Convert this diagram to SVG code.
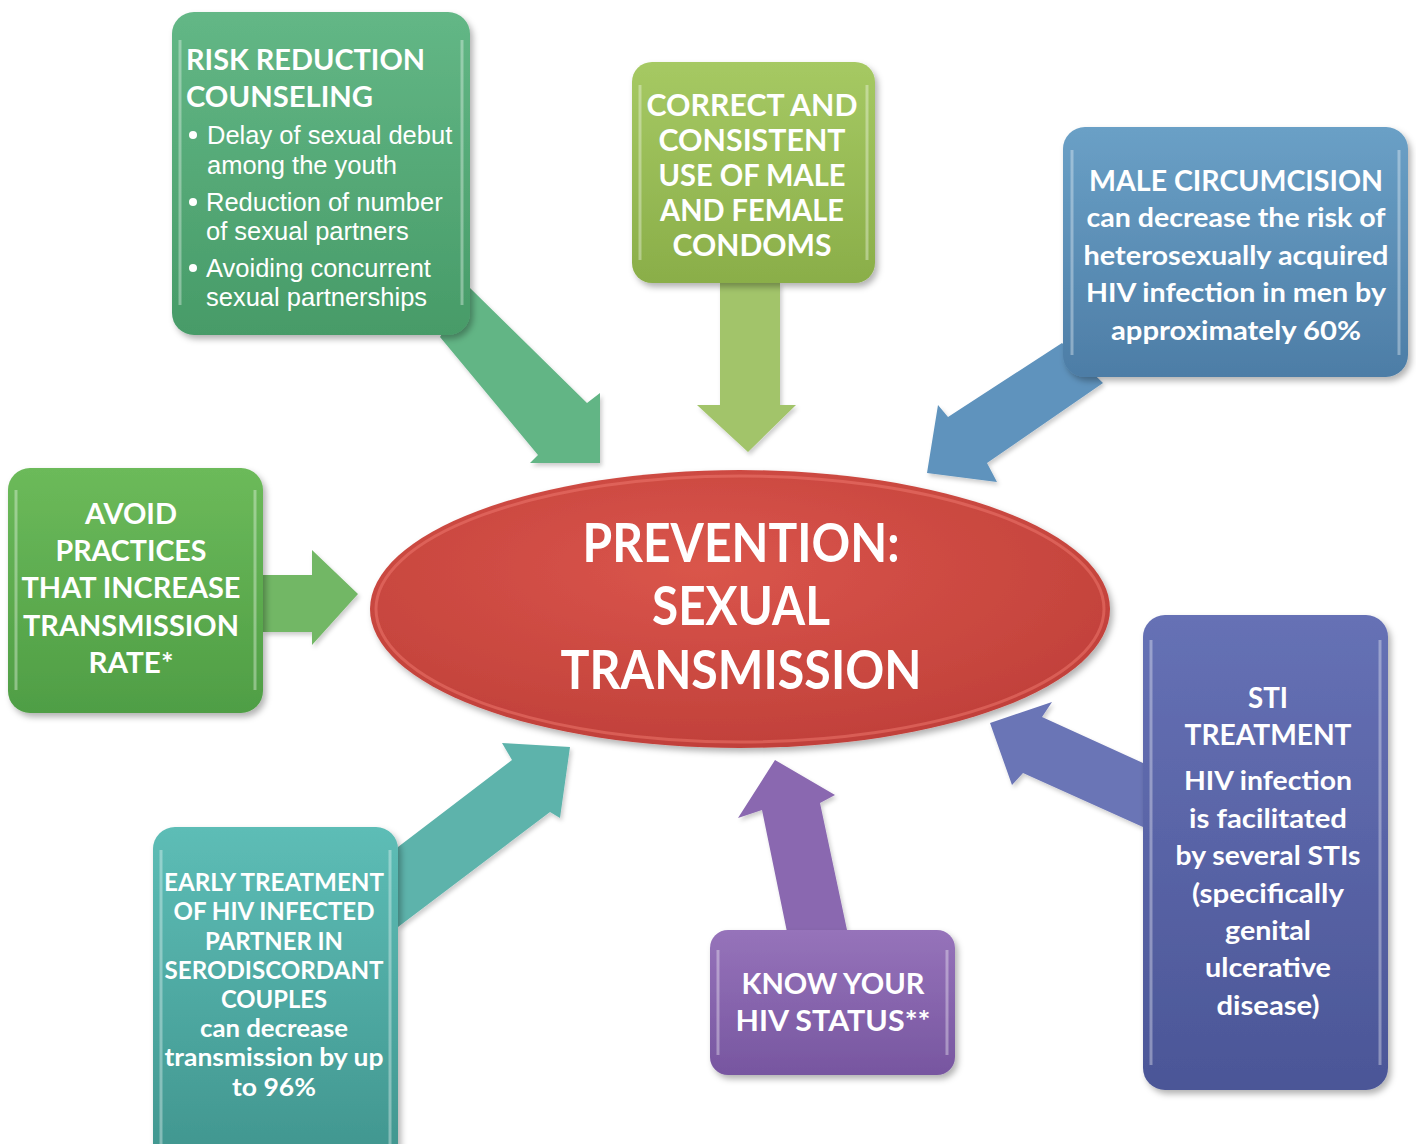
<svg xmlns="http://www.w3.org/2000/svg" width="1416" height="1144" viewBox="0 0 1416 1144">
<defs>
<filter id="sh" x="-10%" y="-10%" width="125%" height="125%">
<feDropShadow dx="3" dy="4" stdDeviation="3" flood-color="#000" flood-opacity="0.3"/>
</filter>
<filter id="ash" x="-10%" y="-10%" width="125%" height="125%">
<feDropShadow dx="2" dy="3" stdDeviation="2" flood-color="#000" flood-opacity="0.2"/>
</filter>
<linearGradient id="g1" x1="0" y1="0" x2="0" y2="1"><stop offset="0" stop-color="#63b786"/><stop offset="1" stop-color="#479b68"/></linearGradient>
<linearGradient id="g2" x1="0" y1="0" x2="0" y2="1"><stop offset="0" stop-color="#a6c963"/><stop offset="1" stop-color="#8aae49"/></linearGradient>
<linearGradient id="g3" x1="0" y1="0" x2="0" y2="1"><stop offset="0" stop-color="#6aa0c6"/><stop offset="1" stop-color="#4d7da6"/></linearGradient>
<linearGradient id="g4" x1="0" y1="0" x2="0" y2="1"><stop offset="0" stop-color="#6cba5a"/><stop offset="1" stop-color="#4f9e45"/></linearGradient>
<linearGradient id="g6" x1="0" y1="0" x2="0" y2="1"><stop offset="0" stop-color="#5dbdb6"/><stop offset="1" stop-color="#40958e"/></linearGradient>
<linearGradient id="g7" x1="0" y1="0" x2="0" y2="1"><stop offset="0" stop-color="#9673ba"/><stop offset="1" stop-color="#7756a0"/></linearGradient>
<linearGradient id="g8" x1="0" y1="0" x2="0" y2="1"><stop offset="0" stop-color="#6671b5"/><stop offset="1" stop-color="#4b5697"/></linearGradient>
<radialGradient id="ge" cx="0.45" cy="0.35" r="0.7"><stop offset="0" stop-color="#da554b"/><stop offset="1" stop-color="#bf3f39"/></radialGradient>
</defs>
<style>
.t{font-family:Lato,"Open Sans","Liberation Sans",sans-serif;font-weight:bold;fill:#fff;text-anchor:middle}
.tl{font-family:Lato,"Open Sans","Liberation Sans",sans-serif;font-weight:bold;fill:#fff}
.b{font-family:"Liberation Sans",Arial,sans-serif;fill:#fff;font-size:25.5px}
.box{filter:url(#sh)}
.hl{stroke:#fff;stroke-opacity:0.35;stroke-width:3;fill:none}
.arr{filter:url(#ash)}
</style>

<g id="connectors">
<polygon class="arr" fill="#62b585" points="470,288 587,403 600,393 600,463 530,463 538,455 440,337"/>
<polygon class="arr" fill="#a2c46a" points="720,283 780,283 780,405 796,405 748,452 697,405 720,405"/>
<polygon class="arr" fill="#5f93bd" points="1062,343 948,417 938,405 927,473 997,482 987,463 1103,383"/>
<polygon class="arr" fill="#72b765" points="263,575 312,575 312,550 358,594 312,645 312,632 263,632"/>
<polygon class="arr" fill="#5db3ab" points="398,847 512,760 502,743 570,747 560,818 550,812 398,927"/>
<polygon class="arr" fill="#8a68b0" points="787,932 762,810 738,818 775,760 835,795 820,803 847,930"/>
<polygon class="arr" fill="#6a74b6" points="1143,763 1042,717 1052,702 990,723 1012,785 1023,773 1143,827"/>
</g>

<g id="center">
<ellipse class="box" cx="740" cy="609" rx="370" ry="139" fill="url(#ge)"/>
<ellipse cx="740" cy="609" rx="364" ry="133" fill="none" stroke="#f07a70" stroke-opacity="0.5" stroke-width="3"/>
<text class="t" font-size="54" x="741" y="562" textLength="317" lengthAdjust="spacingAndGlyphs">PREVENTION:</text>
<text class="t" font-size="54" x="741" y="625" textLength="178" lengthAdjust="spacingAndGlyphs">SEXUAL</text>
<text class="t" font-size="54" x="741" y="689" textLength="361" lengthAdjust="spacingAndGlyphs">TRANSMISSION</text>
</g>

<g id="risk-reduction">
<rect class="box" x="172" y="12" width="298" height="323" rx="22" fill="url(#g1)"/>
<line class="hl" x1="180" y1="40" x2="180" y2="305"/>
<line class="hl" x1="462" y1="40" x2="462" y2="305"/>
<text class="tl" font-size="29" x="186" y="70" textLength="239" lengthAdjust="spacingAndGlyphs">RISK REDUCTION</text>
<text class="tl" font-size="29" x="186" y="107" textLength="187" lengthAdjust="spacingAndGlyphs">COUNSELING</text>
<circle cx="193" cy="135" r="4" fill="#fff"/>
<text class="b" x="207" y="144">Delay of sexual debut</text>
<text class="b" x="207" y="174">among the youth</text>
<circle cx="193" cy="202" r="4" fill="#fff"/>
<text class="b" x="206" y="211">Reduction of number</text>
<text class="b" x="206" y="240">of sexual partners</text>
<circle cx="193" cy="268" r="4" fill="#fff"/>
<text class="b" x="206" y="277">Avoiding concurrent</text>
<text class="b" x="206" y="306">sexual partnerships</text>
</g>

<g id="condoms">
<rect class="box" x="632" y="62" width="243" height="221" rx="20" fill="url(#g2)"/>
<line class="hl" x1="640" y1="85" x2="640" y2="260"/>
<line class="hl" x1="867" y1="85" x2="867" y2="260"/>
<text class="t" font-size="30" x="752" y="116" textLength="211" lengthAdjust="spacingAndGlyphs">CORRECT AND</text>
<text class="t" font-size="30" x="752" y="151" textLength="187" lengthAdjust="spacingAndGlyphs">CONSISTENT</text>
<text class="t" font-size="30" x="752" y="186" textLength="187" lengthAdjust="spacingAndGlyphs">USE OF MALE</text>
<text class="t" font-size="30" x="752" y="221" textLength="184" lengthAdjust="spacingAndGlyphs">AND FEMALE</text>
<text class="t" font-size="30" x="752" y="256" textLength="159" lengthAdjust="spacingAndGlyphs">CONDOMS</text>
</g>

<g id="circumcision">
<rect class="box" x="1063" y="127" width="345" height="250" rx="22" fill="url(#g3)"/>
<line class="hl" x1="1072" y1="150" x2="1072" y2="355"/>
<line class="hl" x1="1399" y1="150" x2="1399" y2="355"/>
<text class="t" font-size="29" x="1236" y="191" textLength="294" lengthAdjust="spacingAndGlyphs">MALE CIRCUMCISION</text>
<text class="t" font-size="27" x="1236" y="227" textLength="299" lengthAdjust="spacingAndGlyphs">can decrease the risk of</text>
<text class="t" font-size="27" x="1236" y="265" textLength="305" lengthAdjust="spacingAndGlyphs">heterosexually acquired</text>
<text class="t" font-size="27" x="1236" y="302" textLength="300" lengthAdjust="spacingAndGlyphs">HIV infection in men by</text>
<text class="t" font-size="27" x="1236" y="340" textLength="250" lengthAdjust="spacingAndGlyphs">approximately 60%</text>
</g>

<g id="avoid-practices">
<rect class="box" x="8" y="468" width="255" height="245" rx="22" fill="url(#g4)"/>
<line class="hl" x1="16" y1="490" x2="16" y2="690"/>
<line class="hl" x1="255" y1="490" x2="255" y2="690"/>
<text class="t" font-size="29" x="131" y="524" textLength="92" lengthAdjust="spacingAndGlyphs">AVOID</text>
<text class="t" font-size="29" x="131" y="561" textLength="151" lengthAdjust="spacingAndGlyphs">PRACTICES</text>
<text class="t" font-size="29" x="131" y="598" textLength="219" lengthAdjust="spacingAndGlyphs">THAT INCREASE</text>
<text class="t" font-size="29" x="131" y="636" textLength="216" lengthAdjust="spacingAndGlyphs">TRANSMISSION</text>
<text class="t" font-size="29" x="131" y="673" textLength="85" lengthAdjust="spacingAndGlyphs">RATE*</text>
</g>

<g id="early-treatment">
<rect class="box" x="153" y="827" width="245" height="340" rx="22" fill="url(#g6)"/>
<line class="hl" x1="161" y1="850" x2="161" y2="1144"/>
<line class="hl" x1="390" y1="850" x2="390" y2="1144"/>
<text class="t" font-size="25" x="274" y="891" textLength="220" lengthAdjust="spacingAndGlyphs">EARLY  TREATMENT</text>
<text class="t" font-size="25" x="274" y="920" textLength="201" lengthAdjust="spacingAndGlyphs">OF HIV INFECTED</text>
<text class="t" font-size="25" x="274" y="950" textLength="138" lengthAdjust="spacingAndGlyphs">PARTNER IN</text>
<text class="t" font-size="25" x="274" y="979" textLength="219" lengthAdjust="spacingAndGlyphs">SERODISCORDANT</text>
<text class="t" font-size="25" x="274" y="1008" textLength="106" lengthAdjust="spacingAndGlyphs">COUPLES</text>
<text class="t" font-size="25" x="274" y="1037" textLength="148" lengthAdjust="spacingAndGlyphs">can decrease</text>
<text class="t" font-size="25" x="274" y="1066" textLength="219" lengthAdjust="spacingAndGlyphs">transmission by up</text>
<text class="t" font-size="25" x="274" y="1096" textLength="84" lengthAdjust="spacingAndGlyphs">to 96%</text>
</g>

<g id="know-status">
<rect class="box" x="710" y="930" width="245" height="145" rx="18" fill="url(#g7)"/>
<line class="hl" x1="718" y1="950" x2="718" y2="1055"/>
<line class="hl" x1="947" y1="950" x2="947" y2="1055"/>
<text class="t" font-size="29" x="833" y="994" textLength="183" lengthAdjust="spacingAndGlyphs">KNOW YOUR</text>
<text class="t" font-size="29" x="833" y="1031" textLength="195" lengthAdjust="spacingAndGlyphs">HIV STATUS**</text>
</g>

<g id="sti-treatment">
<rect class="box" x="1143" y="615" width="245" height="475" rx="22" fill="url(#g8)"/>
<line class="hl" x1="1151" y1="640" x2="1151" y2="1065"/>
<line class="hl" x1="1380" y1="640" x2="1380" y2="1065"/>
<text class="t" font-size="29" x="1268" y="708" textLength="40" lengthAdjust="spacingAndGlyphs">STI</text>
<text class="t" font-size="29" x="1268" y="745" textLength="167" lengthAdjust="spacingAndGlyphs">TREATMENT</text>
<text class="t" font-size="27" x="1268" y="790" textLength="168" lengthAdjust="spacingAndGlyphs">HIV infection</text>
<text class="t" font-size="27" x="1268" y="828" textLength="158" lengthAdjust="spacingAndGlyphs">is facilitated</text>
<text class="t" font-size="27" x="1268" y="865" textLength="185" lengthAdjust="spacingAndGlyphs">by several STIs</text>
<text class="t" font-size="27" x="1268" y="903" textLength="152" lengthAdjust="spacingAndGlyphs">(specifically</text>
<text class="t" font-size="27" x="1268" y="940" textLength="86" lengthAdjust="spacingAndGlyphs">genital</text>
<text class="t" font-size="27" x="1268" y="977" textLength="126" lengthAdjust="spacingAndGlyphs">ulcerative</text>
<text class="t" font-size="27" x="1268" y="1015" textLength="103" lengthAdjust="spacingAndGlyphs">disease)</text>
</g>
</svg>
